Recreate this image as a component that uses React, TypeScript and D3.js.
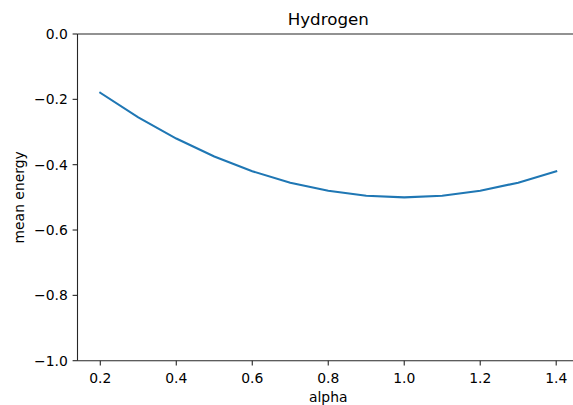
import React from "react";
import * as d3 from "d3";

const alpha = [0.2, 0.3, 0.4, 0.5, 0.6, 0.7, 0.8, 0.9, 1.0, 1.1, 1.2, 1.3, 1.4];
const meanEnergy = [-0.18, -0.255, -0.32, -0.375, -0.42, -0.455, -0.48, -0.495, -0.5, -0.495, -0.48, -0.455, -0.42];
const xTicks = [0.2, 0.4, 0.6, 0.8, 1.0, 1.2, 1.4];
const yTicks = [0.0, -0.2, -0.4, -0.6, -0.8, -1.0];

const W = 573;
const H = 405;
const FONT = "DejaVu Sans, sans-serif";

export default function App() {
  const left = 77.5;
  const right = 579;
  const top = 34;
  const bottom = 360.7;

  const x = d3.scaleLinear().domain([0.14, 1.46]).range([left, right]);
  const y = d3.scaleLinear().domain([-1, 0]).range([bottom, top]);

  const line = d3
    .line<number>()
    .x((_, i) => x(alpha[i]))
    .y((d) => y(d));

  const fmt = (v: number) => d3.format(".1f")(v).replace("-", "\u2212");
  const spine = "#262626";
  const cx = (left + right) / 2;
  const cy = (top + bottom) / 2;

  return (
    <svg
      width={W}
      height={H}
      style={{ position: "absolute", left: 0, top: 0, background: "#fff" }}
      fontFamily={FONT}
    >
      <rect width={W} height={H} fill="#fff" />
      <path d={line(meanEnergy) ?? ""} fill="none" stroke="#1f77b4" strokeWidth={2.08} strokeLinecap="square" />
      <line x1={left} x2={left} y1={top} y2={bottom} stroke={spine} strokeWidth={1.1} />
      <line x1={left} x2={right} y1={bottom} y2={bottom} stroke={spine} strokeWidth={1.1} />
      <line x1={left} x2={right} y1={top} y2={top} stroke={spine} strokeWidth={1.1} />
      {xTicks.map((t) => (
        <g key={"x" + t}>
          <line x1={x(t)} x2={x(t)} y1={bottom} y2={bottom + 4.9} stroke={spine} strokeWidth={1.1} />
          <text x={x(t)} y={383} textAnchor="middle" fontSize={13.9} fill="#000">
            {fmt(t)}
          </text>
        </g>
      ))}
      {yTicks.map((t) => (
        <g key={"y" + t}>
          <line x1={left - 4.9} x2={left} y1={y(t)} y2={y(t)} stroke={spine} strokeWidth={1.1} />
          <text x={left - 9.7} y={y(t)} dy="0.36em" textAnchor="end" fontSize={13.9} fill="#000">
            {fmt(t)}
          </text>
        </g>
      ))}
      <text x={cx} y={25} textAnchor="middle" fontSize={16.7} fill="#000">
        Hydrogen
      </text>
      <text x={cx} y={402} textAnchor="middle" fontSize={13.9} fill="#000">
        alpha
      </text>
      <text
        transform={`translate(23.5,${cy}) rotate(-90)`}
        textAnchor="middle"
        fontSize={13.9}
        fill="#000"
      >
        mean energy
      </text>
    </svg>
  );
}
